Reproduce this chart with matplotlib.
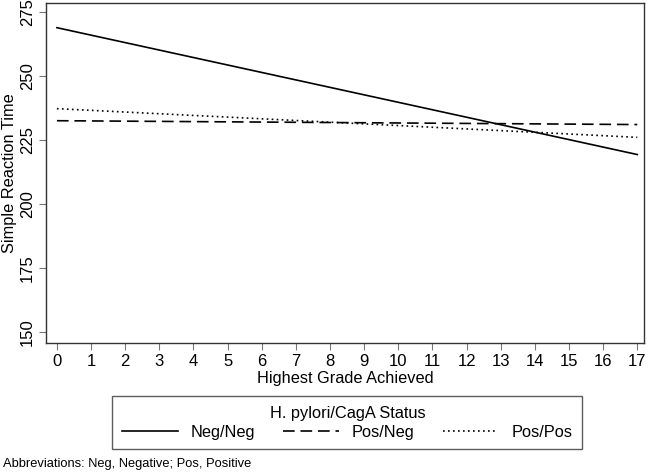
import numpy as np
import matplotlib.pyplot as plt

plt.rcParams['font.family'] = ['Liberation Sans', 'DejaVu Sans']

# fitted lines (grade 0 and grade 17)
grades = [0, 17]
neg_neg = [268.8, 219.3]
pos_neg = [232.5, 231.0]
pos_pos = [237.2, 226.0]

fig = plt.figure(figsize=(6.48, 4.72), dpi=100)
ax = fig.add_axes([0.071, 0.273, 0.923, 0.721])

ax.plot(grades, neg_neg, color='black', lw=1.2, label='Neg/Neg')
ax.plot(grades, pos_neg, color='black', lw=1.2, dashes=(7, 3.5), label='Pos/Neg')
ax.plot(grades, pos_pos, color='black', lw=1.2, dashes=(1, 2), label='Pos/Pos')

ax.set_xlim(-0.32, 17.2)
ax.set_ylim(145.7, 278.5)
ax.set_xticks(range(0, 18))
ax.set_yticks([150, 175, 200, 225, 250, 275])
ax.tick_params(axis='both', direction='out', length=5, color='#777777',
               labelsize=12, pad=3)
ax.tick_params(axis='y', labelrotation=90)
for lbl in ax.get_yticklabels():
    lbl.set_va('center')
for s in ax.spines.values():
    s.set_color('#333333')
    s.set_linewidth(1.0)

ax.set_xlabel('Highest Grade Achieved', fontsize=11.8, labelpad=1)
ax.set_ylabel('Simple Reaction Time', fontsize=11.8, labelpad=2)

leg = fig.legend(loc='center', bbox_to_anchor=(0.536, 0.104), ncol=3,
                 title='H. pylori/CagA Status', fontsize=11.8, title_fontsize=11.8,
                 frameon=True, fancybox=False, edgecolor='#333333',
                 handlelength=3.4, handletextpad=0.8, columnspacing=1.7,
                 borderpad=0.6, labelspacing=0.2)
leg.get_frame().set_linewidth(1.0)

fig.text(0.005, 0.01, 'Abbreviations: Neg, Negative; Pos, Positive', fontsize=9.3)

fig.savefig('out.png', dpi=100)
